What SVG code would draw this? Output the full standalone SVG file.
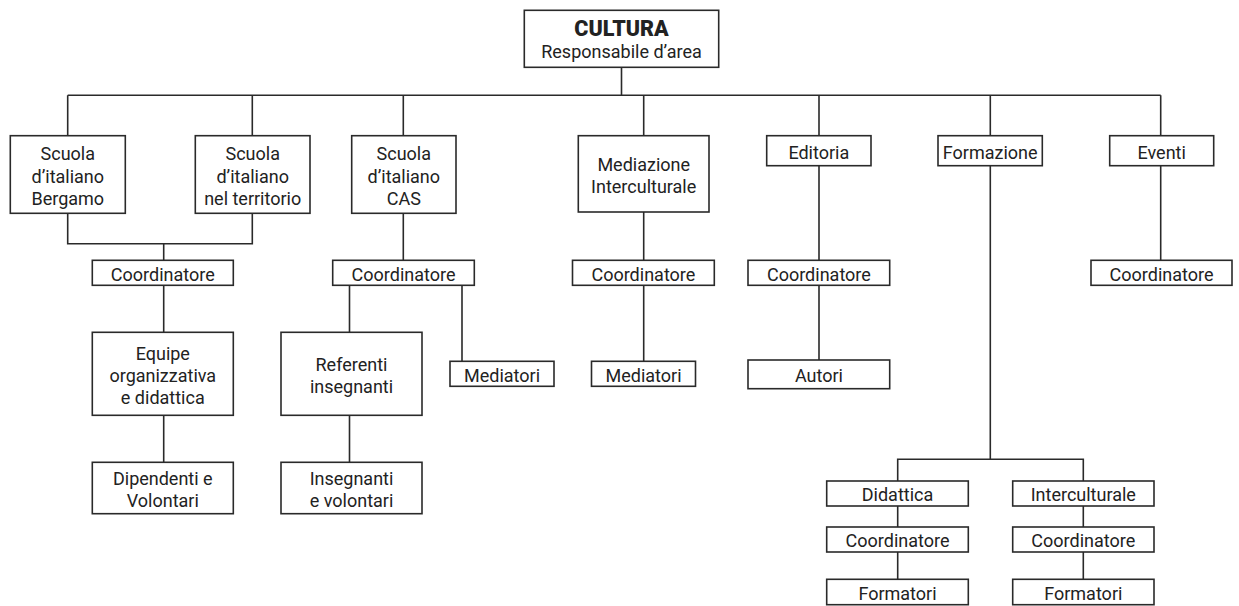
<svg xmlns="http://www.w3.org/2000/svg" width="1239" height="606" viewBox="0 0 1239 606">
<style>
rect{fill:#fff;stroke:#2a2a2a;stroke-width:1.6}
#connectors path{fill:none;stroke:#2a2a2a;stroke-width:1.6}
text{font-family:Roboto,"Liberation Sans",sans-serif;font-size:18px;fill:#222;text-anchor:middle}
.b{font-weight:900;font-size:21.5px}
</style>
<rect x="0" y="0" width="1239" height="606" style="fill:#fff;stroke:none"/>
<g id="connectors">
<path d="M621.5 67.3V95.3M67.7 95.3H1160.7M67.7 95.3V135.7M252.3 95.3V135.7M403.3 95.3V135.7M643.7 95.3V135.7M819 95.3V135.7M990.3 95.3V135.7M1160.7 95.3V135.7"/>
<path d="M67.7 213.3V243.7H252.3V213.3M163.7 243.7V260.3M163.7 285.3V332.3M163.7 415.3V462.3"/>
<path d="M403.3 213.3V260.3M349.5 285.3V332.3M462 285.3V361.3M349.5 415.3V462.3"/>
<path d="M643.7 212V260.3M643.7 285.3V361.3"/>
<path d="M819 165.7V260.3M819 285.3V360"/>
<path d="M990.3 165.7V459.3M897.7 481V459.3H1083.3V481M897.7 506V527M897.7 552V579.3M1083.3 506V527M1083.3 552V579.3"/>
<path d="M1160.7 165.7V260.3"/>
</g>
<g id="cultura"><rect x="524.3" y="10.3" width="194.4" height="57"/><text x="621.5" y="35.7" class="b">CULTURA</text><text x="621.5" y="57.5">Responsabile d’area</text></g>
<g id="bergamo"><rect x="10.3" y="135.7" width="115" height="77.6"/><text x="67.8" y="160">Scuola</text><text x="67.8" y="182.5">d’italiano</text><text x="67.8" y="205">Bergamo</text></g>
<g id="territorio"><rect x="195.3" y="135.7" width="114.7" height="77.6"/><text x="252.7" y="160">Scuola</text><text x="252.7" y="182.5">d’italiano</text><text x="252.7" y="205">nel territorio</text></g>
<g id="cas"><rect x="351.7" y="135.7" width="104.3" height="77.6"/><text x="403.8" y="160">Scuola</text><text x="403.8" y="182.5">d’italiano</text><text x="403.8" y="205">CAS</text></g>
<g id="mediazione"><rect x="578.3" y="135.7" width="130.7" height="76.3"/><text x="643.7" y="170.5">Mediazione</text><text x="643.7" y="193">Interculturale</text></g>
<g id="editoria"><rect x="766.7" y="135.7" width="104.3" height="30"/><text x="818.8" y="158.5">Editoria</text></g>
<g id="formazione"><rect x="938" y="135.7" width="104.3" height="30"/><text x="990.2" y="158.5">Formazione</text></g>
<g id="eventi"><rect x="1109.7" y="135.7" width="104" height="30"/><text x="1161.7" y="158.5">Eventi</text></g>
<g id="coord1"><rect x="92.3" y="260.3" width="141" height="25"/><text x="162.8" y="280.5">Coordinatore</text></g>
<g id="coord-cas"><rect x="332.7" y="260.3" width="141.6" height="25"/><text x="403.5" y="280.5">Coordinatore</text></g>
<g id="coord-med"><rect x="572.5" y="260.3" width="141.8" height="25"/><text x="643.4" y="280.5">Coordinatore</text></g>
<g id="coord-ed"><rect x="748" y="260.3" width="141.7" height="25"/><text x="818.9" y="280.5">Coordinatore</text></g>
<g id="coord-ev"><rect x="1091" y="260.3" width="141" height="25"/><text x="1161.5" y="280.5">Coordinatore</text></g>
<g id="equipe"><rect x="92.3" y="332.3" width="141" height="83"/><text x="162.8" y="359.5">Equipe</text><text x="162.8" y="381.5">organizzativa</text><text x="162.8" y="403.5">e didattica</text></g>
<g id="referenti"><rect x="281" y="332.3" width="141" height="83"/><text x="351.5" y="371">Referenti</text><text x="351.5" y="393">insegnanti</text></g>
<g id="mediatori1"><rect x="450" y="361.3" width="104" height="25"/><text x="502" y="381.5">Mediatori</text></g>
<g id="mediatori2"><rect x="591.5" y="361.3" width="104" height="25"/><text x="643.5" y="381.5">Mediatori</text></g>
<g id="autori"><rect x="748" y="360" width="141.7" height="28.7"/><text x="818.9" y="382">Autori</text></g>
<g id="dipendenti"><rect x="92.3" y="462.3" width="141" height="51.4"/><text x="162.8" y="485">Dipendenti e</text><text x="162.8" y="507">Volontari</text></g>
<g id="insegnanti"><rect x="281" y="462.3" width="141" height="51.4"/><text x="351.5" y="485">Insegnanti</text><text x="351.5" y="507">e volontari</text></g>
<g id="didattica"><rect x="826.7" y="481" width="141.6" height="25"/><text x="897.5" y="501.2">Didattica</text></g>
<g id="interculturale"><rect x="1012.7" y="481" width="141.3" height="25"/><text x="1083.3" y="501.2">Interculturale</text></g>
<g id="coord-did"><rect x="826.7" y="527" width="141.6" height="25"/><text x="897.5" y="547.2">Coordinatore</text></g>
<g id="coord-int"><rect x="1012.7" y="527" width="141.3" height="25"/><text x="1083.3" y="547.2">Coordinatore</text></g>
<g id="formatori-did"><rect x="826.7" y="579.3" width="141.6" height="25.4"/><text x="897.5" y="599.7">Formatori</text></g>
<g id="formatori-int"><rect x="1012.7" y="579.3" width="141.3" height="25.4"/><text x="1083.3" y="599.7">Formatori</text></g>
</svg>
